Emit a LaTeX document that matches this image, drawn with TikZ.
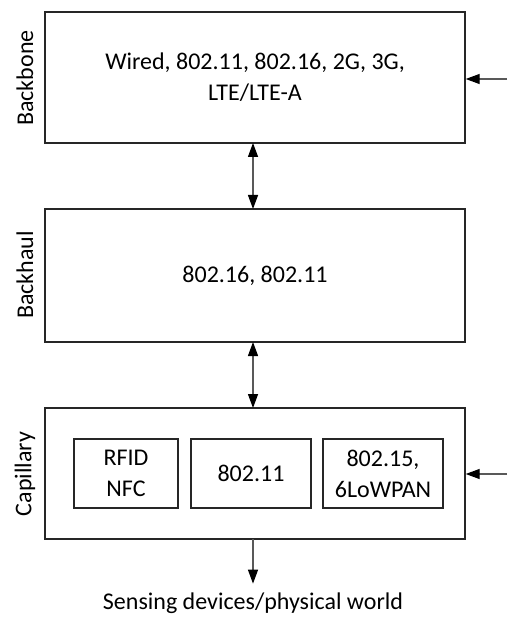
\documentclass[tikz,border=0pt]{standalone}
\usepackage{fontspec}
\setmainfont{Carlito}
\usetikzlibrary{arrows.meta}
\begin{document}
\begin{tikzpicture}[x=1pt,y=-1pt,
  every node/.style={font=\fontsize{24}{31}\selectfont},
  layer/.style={draw=black!85, line width=1.4pt, inner sep=0pt},
  sub/.style={draw=black!85, line width=1.1pt, inner sep=0pt, align=center},
  side/.style={rotate=90, inner sep=0pt},
  conn/.style={draw=black!65, line width=1.3pt},
  head/.tip={Triangle[width=10pt,length=14pt,color=black]},
  tip/.style={-head},
  tips/.style={head-head}]
\useasboundingbox (0,0) rectangle (507,617);
% layer boxes
\node[layer, minimum width=420pt, minimum height=131pt, align=center] (bb) at (255,77.5)
  {Wired, 802.11, 802.16, 2G, 3G,\\LTE/LTE-A};
\node[layer, minimum width=420pt, minimum height=133pt] (bh) at (255,275.5) {802.16, 802.11};
\node[layer, minimum width=420pt, minimum height=131pt] (cap) at (255,473.5) {};
% inner boxes
\node[sub, minimum width=104pt, minimum height=69pt] (rfid) at (126,473.5) {RFID\\NFC};
\node[sub, minimum width=120pt, minimum height=69pt] (wifi) at (251,473.5) {802.11};
\node[sub, minimum width=120pt, minimum height=69pt] (zig) at (383,473.5) {802.15,\\6LoWPAN};
% side labels
\node[side] (lbb) at (25,78) {Backbone};
\node[side] (lbh) at (25,275) {Backhaul};
\node[side] (lcap) at (25,474) {Capillary};
% bottom label
\node[inner sep=0pt, anchor=base] (sense) at (253,609.5) {Sensing devices/physical world};
% connectors
\coordinate (inbb) at (507,79);
\coordinate (incap) at (507,474);
\draw[conn, tips] (253,143) -- (253,209);
\draw[conn, tips] (253,342) -- (253,408);
\draw[conn, tip] (inbb) -- (inbb -| bb.east);
\draw[conn, tip] (incap) -- (incap -| cap.east);
\draw[conn, tip, shorten >=9pt] (253,539) -- (sense.north -| 253,0);
\end{tikzpicture}
\end{document}
